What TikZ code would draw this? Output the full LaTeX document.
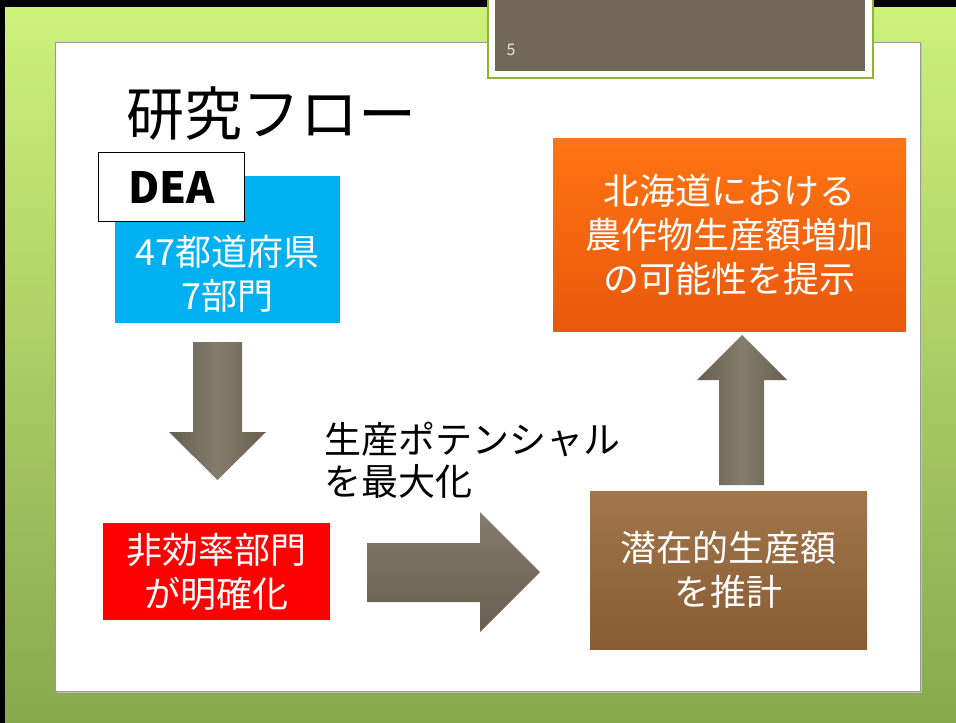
\documentclass[tikz,border=0pt]{standalone}
\usepackage{fontspec}
\setmainfont{Noto Sans CJK JP}
\definecolor{bgtop}{RGB}{206,242,124}
\definecolor{bgbottom}{RGB}{136,168,78}
\definecolor{framegreen}{RGB}{140,182,58}
\definecolor{slidebrown}{RGB}{114,104,88}
\definecolor{arrowdark}{RGB}{102,94,80}
\definecolor{arrowlight}{RGB}{132,124,108}
\definecolor{prefblue}{RGB}{0,176,240}
\definecolor{boxorange}{RGB}{255,116,18}
\definecolor{boxorangedark}{RGB}{232,88,12}
\definecolor{boxbrown}{RGB}{162,118,74}
\definecolor{boxbrowndark}{RGB}{136,92,52}
\tikzset{
  flowbox/.style={anchor=north west,inner sep=0pt,align=center,text=white,
    font=\fontsize{36}{44}\selectfont},
  vshaft/.style={left color=arrowdark,right color=arrowdark,middle color=arrowlight},
  hshaft/.style={top color=arrowlight,bottom color=arrowdark},
}

\begin{document}
\begin{tikzpicture}[x=1pt,y=-1pt]
\useasboundingbox (0,0) rectangle (956,723);
% background
\shade[top color=bgtop,bottom color=bgbottom] (0,0) rectangle (956,723);
\fill[black] (0,0) rectangle (956,7);
\fill[black] (0,0) rectangle (5,723);
% slide panel
\fill[black!25] (57,44) rectangle (922,693);
\fill[white] (55,42) rectangle (920,691);
\draw[gray!80,line width=1pt] (55,42) rectangle (920,691);
% number tab
\fill[white] (488,0) rectangle (873,78);
\draw[framegreen,line width=1.2pt] (488,0) -- (488,78) -- (873,78) -- (873,0);
\fill[slidebrown] (495,0) rectangle (865,71);
\node[anchor=west,text=gray!20,font=\fontsize{16}{18}\selectfont] (slideno) at (503,50) {5};
% title
\node[anchor=west,font=\fontsize{58}{62}\selectfont] (title) at (123,114) {研究フロー};

% boxes
\node[flowbox,fill=prefblue,minimum width=225pt,minimum height=147pt] (pref) at (115,176) {};
\node[align=center,text=white,font=\fontsize{36}{44}\selectfont] (preftext) at (227.5,274) {47都道府県\\7部門};
\node[flowbox,fill=white,draw=black,line width=1.2pt,text=black,minimum width=146pt,minimum height=69pt,
  font=\fontsize{43}{48}\selectfont\bfseries] (dea) at (98,152) {DEA};
\node[flowbox,fill=red,minimum width=227pt,minimum height=97pt] (ineff) at (103,523) {非効率部門\\が明確化};
\node[flowbox,top color=boxbrown,bottom color=boxbrowndark,minimum width=277pt,minimum height=158pt] (estim) at (590,491) {潜在的生産額\\を推計};
\node[flowbox,top color=boxorange,bottom color=boxorangedark,minimum width=353pt,minimum height=193pt] (result) at (553,138) {北海道における\\農作物生産額増加\\の可能性を提示};
\node[anchor=west,align=left,font=\fontsize{37}{42}\selectfont] (maxlabel) at (321,460) {生産ポテンシャル\\を最大化};

% block arrows
\shade[vshaft] (193,342) -- (242,342) -- (242,432) -- (266,432) -- (217.5,480) -- (169,432) -- (193,432) -- cycle;
\shade[hshaft] (367,543) -- (480,543) -- (480,512) -- (540,572) -- (480,632) -- (480,602) -- (367,602) -- cycle;
\shade[vshaft] (719,485) -- (719,380) -- (697,380) -- (742,335) -- (787,380) -- (764,380) -- (764,485) -- cycle;
\end{tikzpicture}
\end{document}
